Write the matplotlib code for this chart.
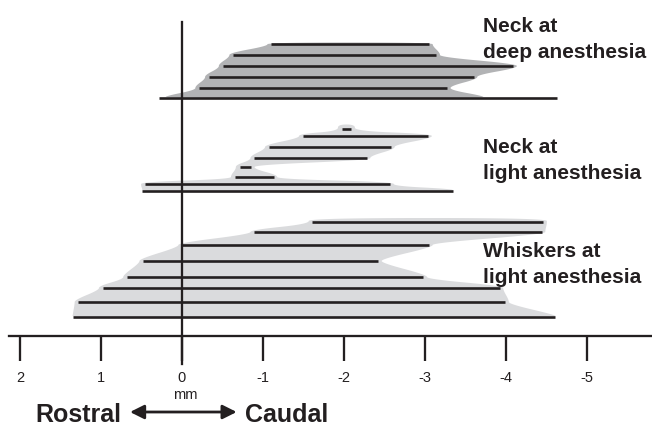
import numpy as np
import matplotlib
matplotlib.use("Agg")
import matplotlib.pyplot as plt

plt.rcParams['font.family'] = ['Liberation Sans', 'DejaVu Sans']
plt.rcParams['axes.unicode_minus'] = False

# Receptive field extents (mm, rostral positive), one row per recording level
# group 1: neck, deep anesthesia
g1_y = [292, 281, 270, 259, 248, 238]
g1_left = [-1.10, -0.63, -0.50, -0.33, -0.21, 0.28]
g1_right = [-3.05, -3.14, -4.09, -3.60, -3.27, -4.63]
g1_foot = (0.20, -3.72)   # extent of the shading at the base row

# group 2: neck, light anesthesia
g2_y = [207, 200, 189, 178, 169, 159, 152, 145]
g2_left = [-1.97, -1.49, -1.07, -0.89, -0.71, -0.65, 0.46, 0.49]
g2_right = [-2.09, -3.04, -2.58, -2.28, -0.85, -1.13, -2.57, -3.34]

# group 3: whiskers, light anesthesia
g3_y = [114, 104, 91, 75, 59, 48, 34, 19]
g3_left = [-1.61, -0.89, 0.00, 0.48, 0.68, 0.98, 1.28, 1.35]
g3_right = [-4.46, -4.44, -3.05, -2.42, -2.98, -3.92, -3.99, -4.61]

labels = ["Neck at\ndeep anesthesia", "Neck at\nlight anesthesia",
          "Whiskers at\nlight anesthesia"]
label_y = [304, 183, 79]

ticks = [2, 1, 0, -1, -2, -3, -4, -5]
tick_labels = ["2", "1", "0", "-1", "-2", "-3", "-4", "-5"]

ink = '#231f20'
dark_fill = '#b2b3b5'
light_fill = '#dadbdd'


def chaikin(pts, n=5):
    p = np.asarray(pts, dtype=float)
    for _ in range(n):
        q = np.roll(p, -1, axis=0)
        new = np.empty((2 * len(p), 2))
        new[0::2] = 0.75 * p + 0.25 * q
        new[1::2] = 0.25 * p + 0.75 * q
        p = new
    return p


def envelope(ys, lefts, rights, foot, padx=0.045, h=2.0, htop=3.5):
    # staircase round the line ends, then smoothed
    rs = []
    for i, (y, r) in enumerate(zip(ys[:-1], rights[:-1])):
        up = htop if i == 0 else h
        rs += [(r - padx, y + up), (r - padx, y - h)]
    rs += [(foot[1], ys[-1] + h), (foot[1], ys[-1])]
    ls = [(foot[0], ys[-1]), (foot[0], ys[-1] + h)]
    n = len(ys) - 1
    for i, (y, l) in enumerate(zip(ys[-2::-1], lefts[-2::-1])):
        up = htop if i == n - 1 else h
        ls += [(l + padx, y - h), (l + padx, y + up)]
    return chaikin(rs + ls)


fig = plt.figure(figsize=(6.52, 4.26), dpi=100)
ax = fig.add_axes([0, 0, 1, 1])
ax.set_xlim(182 / 81, (182 - 652) / 81)
ax.set_ylim(-90, 336)

groups = [
    (g1_y, g1_left, g1_right, g1_foot, dark_fill, 1.5),
    (g2_y, g2_left, g2_right, (g2_left[-1], g2_right[-1]), light_fill, 4.5),
    (g3_y, g3_left, g3_right, (g3_left[-1], g3_right[-1]), light_fill, 4.0),
]
for ys, ls, rs, foot, col, top in groups:
    env = envelope(ys, ls, rs, foot, htop=top)
    ax.fill(env[:, 0], env[:, 1], color=col, lw=0, zorder=1)
    ax.hlines(ys, ls, rs, color=ink, lw=1.9, zorder=3)

for lab, y0 in zip(labels, label_y):
    for i, line in enumerate(lab.split("\n")):
        ax.text(-3.716, y0 - i * 26.3, line, ha='left', va='baseline',
                fontsize=15, fontweight='bold', color=ink)

# axes
for s in ['top', 'right']:
    ax.spines[s].set_visible(False)
ax.spines['bottom'].set_position(('data', 0))
ax.spines['left'].set_position(('data', 0))
ax.spines['bottom'].set_bounds(2.13, -5.81)
ax.spines['left'].set_bounds(-28, 314)
for s in ['bottom', 'left']:
    ax.spines[s].set_linewidth(1.65)
    ax.spines[s].set_color(ink)
    ax.spines[s].set_zorder(4)
ax.set_xticks(ticks)
ax.set_xticklabels(tick_labels)
ax.set_yticks([])
ax.tick_params(axis='x', direction='out', length=18, width=1.65, color=ink,
               labelsize=10.5, labelcolor=ink, pad=7)

ax.text(-0.04, -59, "mm", ha='center', va='center', fontsize=10.5, color=ink)
ax.text(1.815, -86, "Rostral", ha='left', va='baseline', fontsize=18,
        fontweight='bold', color=ink)
ax.text(-0.778, -86, "Caudal", ha='left', va='baseline', fontsize=18,
        fontweight='bold', color=ink)
ax.annotate("", xy=(-0.675, -76), xytext=(0.642, -76),
            arrowprops=dict(arrowstyle='<|-|>', color=ink, lw=2,
                            mutation_scale=21, shrinkA=0, shrinkB=0))

fig.savefig("out.png", dpi=100)
